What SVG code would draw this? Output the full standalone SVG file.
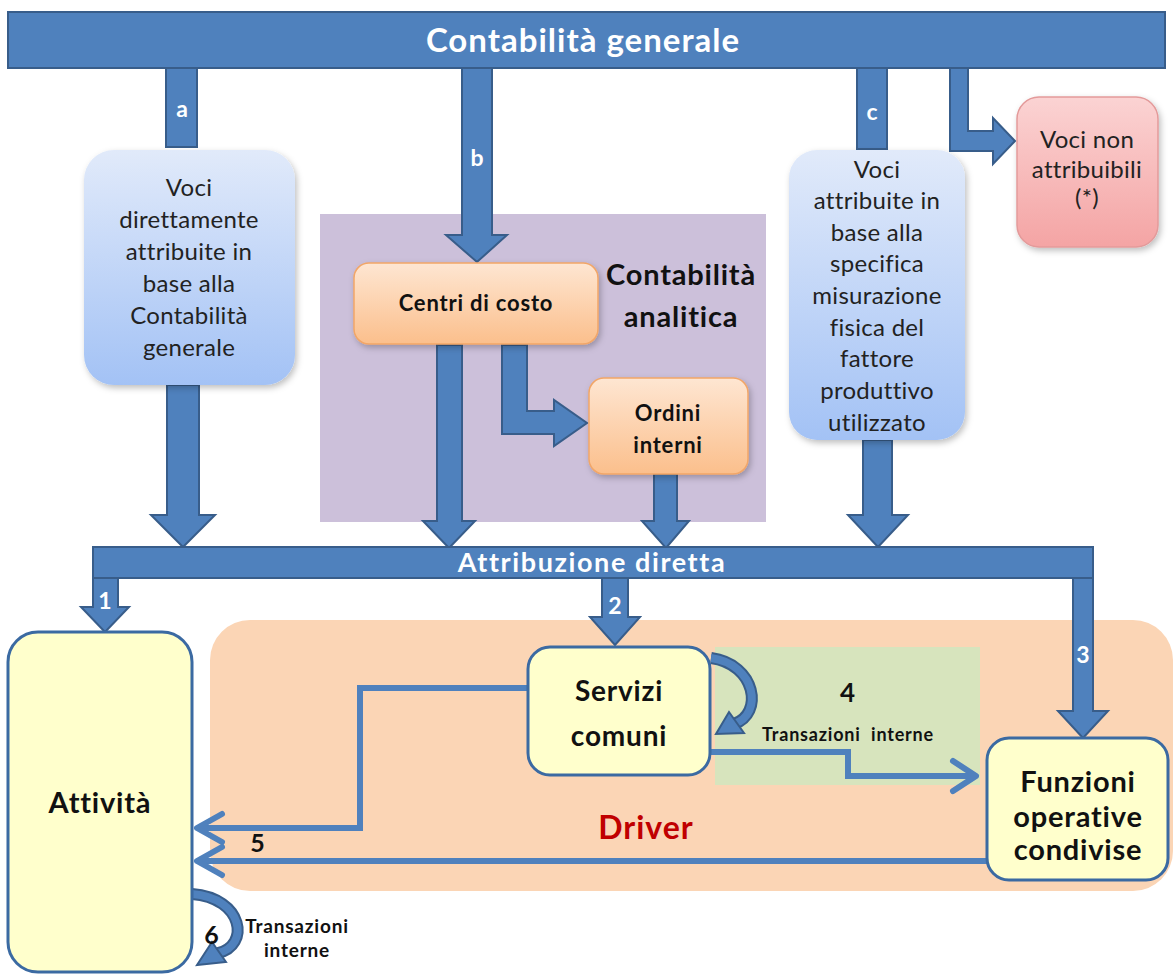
<svg xmlns="http://www.w3.org/2000/svg" width="1174" height="976" viewBox="0 0 1174 976">
<style>
.bar{fill:#4f81bd;stroke:#385d8a;stroke-width:2}
.wt{font-family:Lato,"Noto Sans",sans-serif;font-weight:bold;fill:#fff;text-anchor:middle}
.bt{font-family:Lato,"Noto Sans",sans-serif;fill:#222;text-anchor:middle;font-size:24px;letter-spacing:0.3px}
.kt{font-family:Lato,"Noto Sans",sans-serif;font-weight:bold;fill:#111;text-anchor:middle;letter-spacing:0.8px}
.yb{fill:#ffffcc;stroke:#3b6aa2;stroke-width:3}
.ln{fill:none;stroke:#4f81bd;stroke-width:6;stroke-linejoin:miter}
.chev{fill:none;stroke:#4f81bd;stroke-width:6;stroke-linecap:round;stroke-linejoin:round}
</style>
<defs>
<linearGradient id="gBlue" x1="0" y1="0" x2="0" y2="1"><stop offset="0" stop-color="#e1eafa"/><stop offset="1" stop-color="#a3c2f5"/></linearGradient>
<linearGradient id="gPink" x1="0" y1="0" x2="0" y2="1"><stop offset="0" stop-color="#fbd3d3"/><stop offset="1" stop-color="#f4a4a4"/></linearGradient>
<linearGradient id="gOr" x1="0" y1="0" x2="0" y2="1"><stop offset="0" stop-color="#fee6d2"/><stop offset="1" stop-color="#fbbf8c"/></linearGradient>
<filter id="sh" x="-10%" y="-10%" width="130%" height="130%"><feDropShadow dx="2" dy="3" stdDeviation="3" flood-color="#000" flood-opacity="0.25"/></filter>
</defs>

<!-- regions -->
<rect id="region-analitica" x="320" y="214" width="446" height="308" fill="#ccc0da"/>
<rect id="region-driver" x="210" y="620" width="963" height="271" rx="40" fill="#fbd5b5"/>
<rect id="region-transazioni" x="715" y="647" width="265" height="138" fill="#d7e4bd"/>

<g id="contabilita-generale">
<rect class="bar" x="8" y="12" width="1157" height="56"/>
<text class="wt" x="583" y="52" font-size="33" letter-spacing="1">Contabilità generale</text>
</g>

<g id="connectors">
<!-- a -->
<rect class="bar" x="166" y="68" width="31" height="79"/>
<text class="wt" x="182" y="117" font-size="23" font-weight="normal">a</text>
<!-- b -->
<polygon class="bar" points="462,68 492,68 492,235 507,235 477,262 446,235 462,235"/>
<text class="wt" x="477" y="166" font-size="23" font-weight="normal">b</text>
<!-- c -->
<rect class="bar" x="857" y="68" width="30" height="81"/>
<text class="wt" x="872" y="120" font-size="23" font-weight="normal">c</text>
<!-- to Voci non attribuibili -->
<polygon class="bar" points="950,68 968,68 968,131 993,131 993,118 1015,141 993,164 993,151 950,151"/>
<!-- left box down -->
<polygon class="bar" points="167,385 199,385 199,515 215,515 183,547 151,515 167,515"/>
<!-- centri down -->
<polygon class="bar" points="437,345 462,345 462,521 475,521 449,548 423,521 437,521"/>
<!-- centri to ordini -->
<polygon class="bar" points="502,345 527,345 527,411 554,411 554,400 587,423 554,446 554,434 502,434"/>
<!-- ordini down -->
<polygon class="bar" points="654,474 677,474 677,521 689,521 666,548 642,521 654,521"/>
<!-- c box down -->
<polygon class="bar" points="863,440 892,440 892,515 908,515 878,547 848,515 863,515"/>
<!-- 1 -->
<polygon class="bar" points="93,578 118,578 118,607 129,607 105,632 81,607 93,607"/>
<text class="wt" x="105" y="609" font-size="23">1</text>
<!-- 2 -->
<polygon class="bar" points="602,578 628,578 628,617 640,617 615,645 590,617 602,617"/>
<text class="wt" x="615" y="614" font-size="23">2</text>
<!-- 3 -->
<polygon class="bar" points="1073,578 1093,578 1093,711 1108,711 1083,738 1058,711 1073,711"/>
<text class="wt" x="1083" y="663" font-size="23">3</text>

<!-- thin connectors -->
<path class="ln" d="M710,752 H848 V776 H976"/>
<polyline class="chev" points="953,761 976,776 953,791"/>
<path class="ln" d="M528,688 H360 V828 H197"/>
<polyline class="chev" points="222,814 197,828 222,842"/>
<path class="ln" d="M987,861 H197"/>
<polyline class="chev" points="222,847 197,861 222,875"/>

<!-- self loop Servizi -->
<path d="M711,658 C756,664 764,714 734,724" fill="none" stroke="#385d8a" stroke-width="12"/>
<path d="M711,658 C756,664 764,714 734,724" fill="none" stroke="#4f81bd" stroke-width="8"/>
<polygon class="bar" points="744,733 729,712 716,734"/>
<!-- self loop Attività -->
<path d="M192,894 C244,898 250,946 218,953" fill="none" stroke="#385d8a" stroke-width="12"/>
<path d="M192,894 C244,898 250,946 218,953" fill="none" stroke="#4f81bd" stroke-width="8"/>
<polygon class="bar" points="226,962 212,942 197,965"/>
</g>

<g id="attribuzione-diretta">
<rect class="bar" x="93" y="547" width="1000" height="31"/>
<text class="wt" x="592" y="572" font-size="27" letter-spacing="1.6">Attribuzione diretta</text>
</g>

<g id="voci-direttamente">
<rect x="84" y="150" width="211" height="235" rx="30" fill="url(#gBlue)" filter="url(#sh)"/>
<text class="bt" x="189" y="196">Voci</text>
<text class="bt" x="189" y="228">direttamente</text>
<text class="bt" x="189" y="260">attribuite in</text>
<text class="bt" x="189" y="292">base alla</text>
<text class="bt" x="189" y="324">Contabilità</text>
<text class="bt" x="189" y="356">generale</text>
</g>

<g id="voci-attribuite">
<rect x="789" y="150" width="176" height="290" rx="28" fill="url(#gBlue)" filter="url(#sh)"/>
<text class="bt" x="877" y="178">Voci</text>
<text class="bt" x="877" y="209">attribuite in</text>
<text class="bt" x="877" y="241">base alla</text>
<text class="bt" x="877" y="272">specifica</text>
<text class="bt" x="877" y="304" letter-spacing="1">misurazione</text>
<text class="bt" x="877" y="336">fisica del</text>
<text class="bt" x="877" y="367">fattore</text>
<text class="bt" x="877" y="399">produttivo</text>
<text class="bt" x="877" y="431">utilizzato</text>
</g>

<g id="voci-non-attribuibili">
<rect x="1017" y="97" width="141" height="150" rx="22" fill="url(#gPink)" stroke="#e39a9a" stroke-width="1.5" filter="url(#sh)"/>
<text class="bt" x="1087" y="148">Voci non</text>
<text class="bt" x="1087" y="178">attribuibili</text>
<text class="bt" x="1087" y="206">(*)</text>
</g>

<g id="contabilita-analitica">
<text class="kt" x="681" y="285" font-size="29">Contabilità</text>
<text class="kt" x="681" y="327" font-size="29">analitica</text>
</g>

<g id="centri-di-costo">
<rect x="354" y="263" width="244" height="81" rx="15" fill="url(#gOr)" stroke="#f2a667" stroke-width="1.5" filter="url(#sh)"/>
<text class="kt" x="476" y="311" font-size="22">Centri di costo</text>
</g>

<g id="ordini-interni">
<rect x="589" y="378" width="159" height="96" rx="15" fill="url(#gOr)" stroke="#f2a667" stroke-width="1.5" filter="url(#sh)"/>
<text class="kt" x="668" y="421" font-size="22">Ordini</text>
<text class="kt" x="668" y="453" font-size="22">interni</text>
</g>

<g id="servizi-comuni">
<rect class="yb" x="528" y="647" width="182" height="128" rx="22"/>
<text class="kt" x="619" y="701" font-size="28">Servizi</text>
<text class="kt" x="619" y="746" font-size="28">comuni</text>
</g>

<g id="transazioni-4">
<text class="kt" x="848" y="702" font-size="26">4</text>
<text class="kt" x="848" y="741" font-size="18" letter-spacing="1">Transazioni&#160; interne</text>
</g>

<g id="funzioni-operative">
<rect class="yb" x="987" y="738" width="181" height="142" rx="22"/>
<text class="kt" x="1078" y="792" font-size="29">Funzioni</text>
<text class="kt" x="1078" y="827" font-size="29">operative</text>
<text class="kt" x="1078" y="860" font-size="29">condivise</text>
</g>

<g id="driver">
<text x="646" y="839" font-family="Lato,'Noto Sans',sans-serif" font-weight="bold" font-size="32" letter-spacing="1" fill="#c00000" text-anchor="middle">Driver</text>
<text class="kt" x="258" y="852" font-size="25">5</text>
</g>

<g id="attivita">
<rect class="yb" x="8" y="632" width="184" height="340" rx="30"/>
<text class="kt" x="100" y="813" font-size="29">Attività</text>
</g>

<g id="transazioni-6">
<text class="kt" x="212" y="944" font-size="25">6</text>
<text class="kt" x="297" y="933" font-size="19">Transazioni</text>
<text class="kt" x="297" y="957" font-size="19">interne</text>
</g>
</svg>
